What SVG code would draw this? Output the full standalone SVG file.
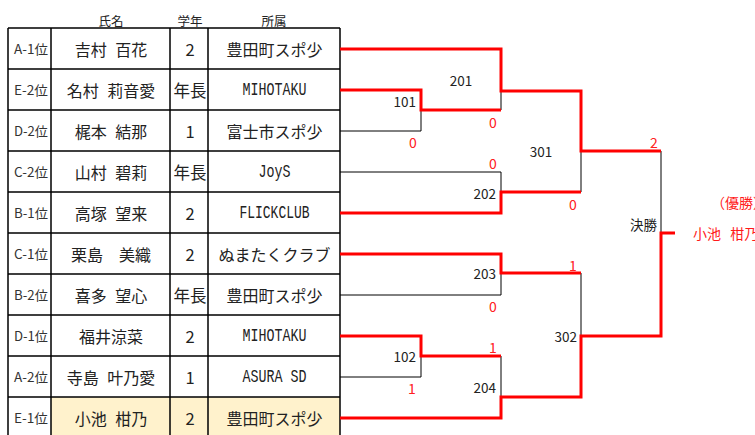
<svg xmlns="http://www.w3.org/2000/svg" width="755" height="435" viewBox="0 0 755 435">
<style>
text{font-family:"Noto Sans CJK JP","Noto Sans",sans-serif;dominant-baseline:central;fill:#222}
.hd{font-size:12.5px;text-anchor:middle}
.rk{font-size:13px;text-anchor:middle;fill:#333}
.nm{font-size:16px;text-anchor:middle;word-spacing:5px}
.gr{font-size:16.5px;text-anchor:middle}
.lat{font-family:"Liberation Mono","DejaVu Sans Mono",monospace;font-size:18px;text-anchor:middle}
.af{font-size:16px;text-anchor:middle}
.lb{font-size:13.5px}
.sc{font-size:14px;fill:#ff2020;text-anchor:middle}
.win{font-size:14px;fill:#ff1a1a;word-spacing:6px}
.grid{stroke:#000;stroke-width:1.5;fill:none}
.thin{stroke:#000;stroke-width:1;fill:none}
.red{stroke:#ff0000;stroke-width:3;fill:none;stroke-linejoin:miter}
</style>
<rect width="755" height="435" fill="#fff"/>
<g id="header">
<text class="hd" x="111" y="20">氏名</text>
<text class="hd" x="190" y="20">学年</text>
<text class="hd" x="274" y="20">所属</text>
</g>
<rect x="51" y="397" width="289" height="41" fill="#fff2cc"/>
<g id="table-grid" class="grid">
<path d="M8,28H340M8,69H340M8,110H340M8,151H340M8,192H340M8,233H340M8,274H340M8,315H340M8,356H340M8,397H340M8,438H340"/>
<path d="M8,28V438M51,28V438M170,28V438M208,28V438M340,28V438"/>
</g>
<g id="p1"><text class="rk" x="31" y="48.5" textLength="34" lengthAdjust="spacingAndGlyphs">A-1位</text><text class="nm" x="111" y="48.5">吉村 百花</text><text class="gr" x="190" y="48.5">2</text><text class="af" x="274.5" y="48.5">豊田町スポ少</text></g>
<g id="p2"><text class="rk" x="31" y="89.5" textLength="34" lengthAdjust="spacingAndGlyphs">E-2位</text><text class="nm" x="111" y="89.5">名村 莉音愛</text><text class="gr" x="190" y="89.5">年長</text><text class="lat" x="274.5" y="89.5" textLength="64" lengthAdjust="spacingAndGlyphs">MIHOTAKU</text></g>
<g id="p3"><text class="rk" x="31" y="130.5" textLength="34" lengthAdjust="spacingAndGlyphs">D-2位</text><text class="nm" x="111" y="130.5">梶本 結那</text><text class="gr" x="190" y="130.5">1</text><text class="af" x="274.5" y="130.5">富士市スポ少</text></g>
<g id="p4"><text class="rk" x="31" y="171.5" textLength="34" lengthAdjust="spacingAndGlyphs">C-2位</text><text class="nm" x="111" y="171.5">山村 碧莉</text><text class="gr" x="190" y="171.5">年長</text><text class="lat" x="274.5" y="171.5" textLength="32" lengthAdjust="spacingAndGlyphs">JoyS</text></g>
<g id="p5"><text class="rk" x="31" y="212.5" textLength="34" lengthAdjust="spacingAndGlyphs">B-1位</text><text class="nm" x="111" y="212.5">高塚 望来</text><text class="gr" x="190" y="212.5">2</text><text class="lat" x="274.5" y="212.5" textLength="70" lengthAdjust="spacingAndGlyphs">FLICKCLUB</text></g>
<g id="p6"><text class="rk" x="31" y="253.5" textLength="34" lengthAdjust="spacingAndGlyphs">C-1位</text><text class="nm" x="111" y="253.5">栗島　美織</text><text class="gr" x="190" y="253.5">2</text><text class="af" x="274.5" y="253.5">ぬまたくクラブ</text></g>
<g id="p7"><text class="rk" x="31" y="294.5" textLength="34" lengthAdjust="spacingAndGlyphs">B-2位</text><text class="nm" x="111" y="294.5">喜多 望心</text><text class="gr" x="190" y="294.5">年長</text><text class="af" x="274.5" y="294.5">豊田町スポ少</text></g>
<g id="p8"><text class="rk" x="31" y="335.5" textLength="34" lengthAdjust="spacingAndGlyphs">D-1位</text><text class="nm" x="111" y="335.5">福井涼菜</text><text class="gr" x="190" y="335.5">2</text><text class="lat" x="274.5" y="335.5" textLength="64" lengthAdjust="spacingAndGlyphs">MIHOTAKU</text></g>
<g id="p9"><text class="rk" x="31" y="376.5" textLength="34" lengthAdjust="spacingAndGlyphs">A-2位</text><text class="nm" x="111" y="376.5">寺島 叶乃愛</text><text class="gr" x="190" y="376.5">1</text><text class="lat" x="274.5" y="376.5" textLength="64" lengthAdjust="spacingAndGlyphs">ASURA SD</text></g>
<g id="p10"><text class="rk" x="31" y="417.5" textLength="34" lengthAdjust="spacingAndGlyphs">E-1位</text><text class="nm" x="111" y="417.5">小池 柑乃</text><text class="gr" x="190" y="417.5">2</text><text class="af" x="274.5" y="417.5">豊田町スポ少</text></g>
<g id="connectors">
<path class="thin" d="M340,131H421V110M501,91V110M340,172H501V192M581,151V192M661,151V233M340,295H501V273M581,273V336M340,377H421V356M501,356V397"/>
<path class="red" d="M340,49H501V91H581V151H661"/>
<path class="red" d="M340,90H421V110H501"/>
<path class="red" d="M340,213H501V192H581"/>
<path class="red" d="M340,254H501V273H581"/>
<path class="red" d="M340,336H421V356H501"/>
<path class="red" d="M675,233H661V336H581V397H501V418H340"/>
</g>
<g id="m101"><text class="lb" x="416" y="101" text-anchor="end">101</text></g>
<g id="m102"><text class="lb" x="416" y="356" text-anchor="end">102</text></g>
<g id="m201"><text class="lb" x="461" y="80" text-anchor="middle">201</text></g>
<g id="m202"><text class="lb" x="496" y="193" text-anchor="end">202</text></g>
<g id="m203"><text class="lb" x="496" y="273" text-anchor="end">203</text></g>
<g id="m204"><text class="lb" x="496" y="387" text-anchor="end">204</text></g>
<g id="m301"><text class="lb" x="541" y="151" text-anchor="middle">301</text></g>
<g id="m302"><text class="lb" x="577" y="336" text-anchor="end">302</text></g>
<g id="final"><text class="lb" x="657" y="224" text-anchor="end">決勝</text></g>
<g id="scores">
<text class="sc" x="493" y="122">0</text>
<text class="sc" x="413" y="142">0</text>
<text class="sc" x="493" y="163">0</text>
<text class="sc" x="573" y="204">0</text>
<text class="sc" x="654" y="142">2</text>
<text class="sc" x="573" y="264.5">1</text>
<text class="sc" x="493" y="306">0</text>
<text class="sc" x="493" y="347">1</text>
<text class="sc" x="412" y="388">1</text>
</g>
<g id="champion">
<text class="win" x="711" y="202">（優勝）</text>
<text class="win" x="693" y="233">小池 柑乃</text>
</g>
</svg>
